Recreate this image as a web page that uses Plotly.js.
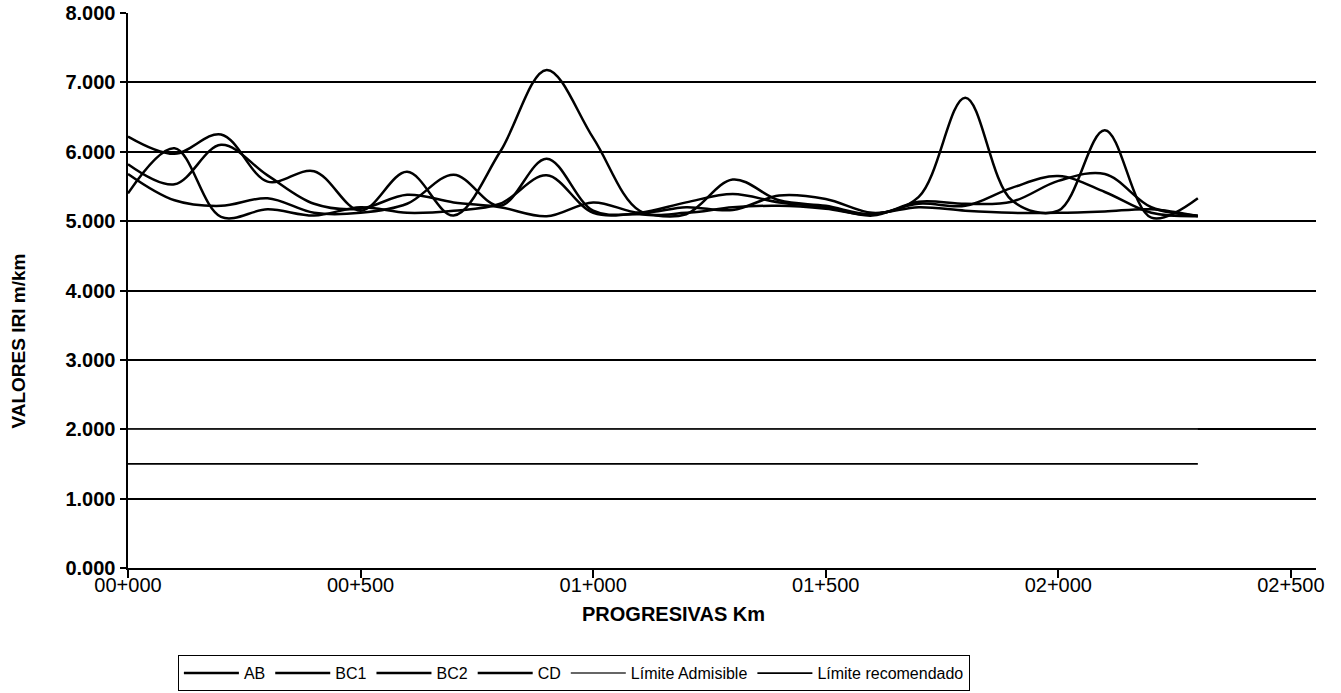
<!DOCTYPE html>
<html>
<head>
<meta charset="utf-8">
<script src="https://cdn.plot.ly/plotly-3.0.1.min.js"></script>
<style>
html,body{margin:0;padding:0;background:#fff;}
#chart{width:1341px;height:693px;}
</style>
</head>
<body>
<div id="chart"></div>
<script>
const progresivas = [0,100,200,300,400,500,600,700,800,900,1000,1100,1200,1300,1400,1500,1600,1700,1800,1900,2000,2100,2200,2300];
const AB  = [6.22,5.97,6.25,5.57,5.72,5.15,5.71,5.08,6.00,7.18,6.20,5.15,5.12,5.20,5.22,5.18,5.10,5.35,6.78,5.30,5.15,6.31,5.05,5.33];
const BC1 = [5.82,5.53,6.10,5.66,5.25,5.18,5.38,5.27,5.20,5.07,5.27,5.12,5.20,5.16,5.37,5.32,5.12,5.20,5.15,5.12,5.12,5.14,5.17,5.07];
const BC2 = [5.68,5.30,5.22,5.33,5.12,5.12,5.25,5.67,5.22,5.90,5.15,5.10,5.10,5.60,5.30,5.22,5.10,5.25,5.22,5.48,5.65,5.42,5.12,5.07];
const CD  = [5.40,6.05,5.06,5.17,5.08,5.20,5.12,5.15,5.25,5.66,5.12,5.12,5.27,5.39,5.27,5.20,5.08,5.28,5.25,5.28,5.58,5.68,5.20,5.08];
const limiteAdmisible   = [2.0,2.0,2.0,2.0,2.0,2.0,2.0,2.0,2.0,2.0,2.0,2.0,2.0,2.0,2.0,2.0,2.0,2.0,2.0,2.0,2.0,2.0,2.0,2.0];
const limiteRecomendado = [1.5,1.5,1.5,1.5,1.5,1.5,1.5,1.5,1.5,1.5,1.5,1.5,1.5,1.5,1.5,1.5,1.5,1.5,1.5,1.5,1.5,1.5,1.5,1.5];
const xTickVals = [0,500,1000,1500,2000,2500];
const xTickText = ["00+000","00+500","01+000","01+500","02+000","02+500"];

const FONT = "Arial, 'Liberation Sans', sans-serif";
function serie(name, y, w, smooth, color){
  return {x: progresivas, y: y, name: name, type: 'scatter', mode: 'lines',
    line: {color: color || '#000', width: w, shape: smooth ? 'spline' : 'linear', smoothing: 1},
    hoverinfo: 'x+y'};
}
const data = [
  serie('AB', AB, 2.5, true),
  serie('BC1', BC1, 2.5, true),
  serie('BC2', BC2, 2.5, true),
  serie('CD', CD, 2.5, true),
  serie('Límite Admisible', limiteAdmisible, 1.5, false, '#333'),
  serie('Límite recomendado', limiteRecomendado, 1.8, false)
];
const layout = {
  width: 1341, height: 693,
  margin: {l: 128, r: 25, t: 13, b: 125, autoexpand: false},
  paper_bgcolor: '#fff', plot_bgcolor: '#fff',
  font: {family: FONT, color: '#000'},
  showlegend: true,
  legend: {orientation: 'h', x: 0.042, xanchor: 'left', y: -0.157, yanchor: 'top',
    bordercolor: '#000', borderwidth: 1, font: {size: 16, family: FONT}, itemwidth: 55,
    traceorder: 'normal'},
  xaxis: {range: [0, 2554], tickvals: xTickVals, ticktext: xTickText,
    showgrid: false, zeroline: false, showline: true, linecolor: '#000', linewidth: 2,
    ticks: 'outside', ticklen: 8, tickwidth: 2, tickcolor: '#000', ticklabelstandoff: -10,
    tickfont: {size: 20, family: FONT}},
  yaxis: {range: [0, 8], dtick: 1, tick0: 0, tickformat: '.3f',
    showgrid: true, gridcolor: '#000', gridwidth: 2, zeroline: false,
    showline: true, linecolor: '#000', linewidth: 2.5,
    ticks: 'outside', ticklen: 6, tickwidth: 2, tickcolor: '#000',
    tickfont: {size: 20, family: FONT, weight: 'bold'}},
  annotations: [
    {text: 'PROGRESIVAS Km', xref: 'paper', yref: 'paper', x: 0.459, y: -0.06, yanchor: 'top',
      showarrow: false, font: {size: 20, family: FONT, weight: 'bold'}},
    {text: 'VALORES IRI m/km', xref: 'paper', yref: 'paper', x: -0.093, xanchor: 'center', y: 0.409,
      textangle: -90, showarrow: false, font: {size: 19, family: FONT, weight: 'bold'}}
  ]
};
Plotly.newPlot('chart', data, layout, {displayModeBar: false, staticPlot: true});
</script>
</body>
</html>
